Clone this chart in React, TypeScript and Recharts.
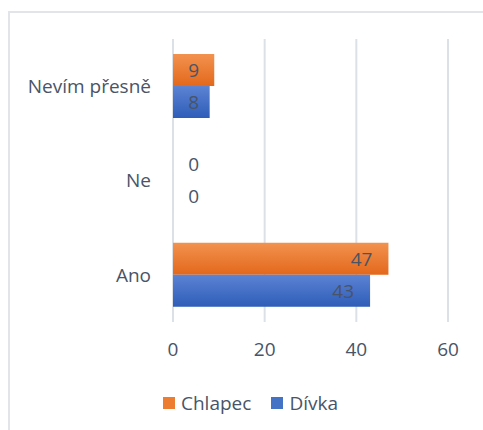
import React from "react";
import { Bar, BarChart, CartesianGrid, LabelList, XAxis, YAxis } from "recharts";

const categories = ["Nevím přesně", "Ne", "Ano"];
const chlapec = [9, 0, 47];
const divka = [8, 0, 43];
const xTicks = [0, 20, 40, 60];

const data = categories.map((name, i) => ({
  name,
  Chlapec: chlapec[i],
  Dívka: divka[i],
}));

const FONT = "'Open Sans', sans-serif";
const TEXT = "#495467";

const series = [
  { key: "Chlapec", color: "#ED7D31", fill: "url(#gOrange)" },
  { key: "Dívka", color: "#4472C4", fill: "url(#gBlue)" },
];

const renderValue = (props: any) => {
  const { x, y, width, height, value } = props;
  const right = Math.max(x + width - 16, x + 26);
  return (
    <text
      x={right}
      y={y + height / 2}
      textAnchor="end"
      dominantBaseline="central"
      fill={TEXT}
      fontSize={19}
      fontFamily={FONT}
    >
      {value}
    </text>
  );
};

// keep zero bars in the data so their labels still get drawn
const zeroSize = (value: any) => (value === 0 ? 0.01 : 0);

export default function App() {
  return (
    <div style={{ position: "absolute", left: 0, top: 0, width: 483, height: 430, background: "#fff", overflow: "hidden" }}>
      <div
        style={{
          position: "absolute",
          left: 8,
          top: 11,
          width: 600,
          height: 600,
          borderLeft: "2px solid #E1E5EA",
          borderTop: "2px solid #E1E5EA",
        }}
      />
      <BarChart
        width={483}
        height={430}
        data={data}
        layout="vertical"
        margin={{ top: 39, right: 35, bottom: 78, left: 0 }}
        barCategoryGap="16%"
        barGap={0}
      >
        <defs>
          <linearGradient id="gOrange" x1="0" y1="0" x2="0" y2="1">
            <stop offset="0%" stopColor="#F2924F" />
            <stop offset="100%" stopColor="#E3681B" />
          </linearGradient>
          <linearGradient id="gBlue" x1="0" y1="0" x2="0" y2="1">
            <stop offset="0%" stopColor="#5C83D4" />
            <stop offset="100%" stopColor="#2E5DB8" />
          </linearGradient>
        </defs>
        <CartesianGrid horizontal={false} stroke="#DCE1E8" strokeWidth={2} />
        <XAxis
          type="number"
          domain={[0, 60]}
          ticks={xTicks}
          height={30}
          axisLine={false}
          tickLine={false}
          tickSize={0}
          tickMargin={21}
          tick={{ fill: TEXT, fontSize: 19, fontFamily: FONT }}
        />
        <YAxis
          type="category"
          dataKey="name"
          width={173}
          axisLine={false}
          tickLine={false}
          tickSize={0}
          tickMargin={22}
          tick={{ fill: TEXT, fontSize: 19, fontFamily: FONT }}
        />
        {series.map((s) => (
          <Bar key={s.key} dataKey={s.key} fill={s.fill} minPointSize={zeroSize} isAnimationActive={false}>
            <LabelList dataKey={s.key} content={renderValue} />
          </Bar>
        ))}
      </BarChart>
      <div
        style={{
          position: "absolute",
          top: 390,
          left: 0,
          width: 483,
          display: "flex",
          justifyContent: "center",
          fontFamily: FONT,
          fontSize: 19,
          color: TEXT,
          paddingLeft: 38,
          boxSizing: "border-box",
        }}
      >
        {series.map((s) => (
          <div key={s.key} style={{ display: "flex", alignItems: "center", marginRight: 20 }}>
            <span style={{ display: "inline-block", width: 12, height: 12, marginRight: 6, background: s.color }} />
            <span>{s.key}</span>
          </div>
        ))}
      </div>
    </div>
  );
}
